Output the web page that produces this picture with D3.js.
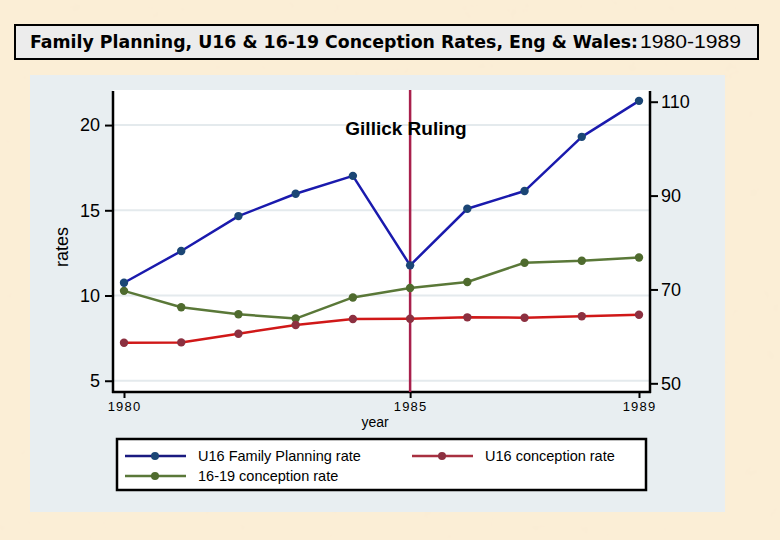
<!DOCTYPE html>
<html>
<head>
<meta charset="utf-8">
<script src="https://cdn.jsdelivr.net/npm/d3@7"></script>
<style>
  html, body { margin: 0; padding: 0; background: #faecd2; }
  svg { display: block; }
</style>
</head>
<body>
<svg id="chart" width="780" height="540"></svg>
<script>
// ---- data ----
const years = [1980, 1981, 1982, 1983, 1984, 1985, 1986, 1987, 1988, 1989];
const u16FamilyPlanning = [10.75, 12.61, 14.66, 15.97, 17.02, 11.77, 15.09, 16.13, 19.31, 21.42]; // left axis
const u16Conception = [7.23, 7.25, 7.76, 8.27, 8.62, 8.64, 8.72, 8.70, 8.78, 8.87];              // left axis
const conception1619 = [69.7, 66.2, 64.7, 63.8, 68.3, 70.3, 71.6, 75.7, 76.1, 76.8];             // right axis
const leftTicks = [5, 10, 15, 20];
const rightTicks = [50, 70, 90, 110];
const xTicks = [1980, 1985, 1989];
const eventYear = 1985;
const eventLabel = "Gillick Ruling";
const titleMain = "Family Planning, U16 & 16-19 Conception Rates, Eng & Wales:";
const titleYears = "1980-1989";
const legendLabels = ["U16 Family Planning rate", "U16 conception rate", "16-19 conception rate"];

const svg = d3.select("#chart");

// parchment texture
const defs = svg.append("defs");
const f = defs.append("filter").attr("id", "paper").attr("x", 0).attr("y", 0).attr("width", "100%").attr("height", "100%");
f.append("feTurbulence").attr("type", "fractalNoise").attr("baseFrequency", 0.05).attr("numOctaves", 4).attr("seed", 7).attr("result", "n");
f.append("feColorMatrix").attr("type", "matrix")
  .attr("values", "0 0 0 0 0.95  0 0 0 0 0.84  0 0 0 0 0.66  0 0 0 -0.8 0.45");
svg.append("rect").attr("width", 780).attr("height", 540).attr("fill", "#fbeed6");
svg.append("rect").attr("width", 780).attr("height", 540).attr("filter", "url(#paper)");

// title box
svg.append("rect").attr("x", 15).attr("y", 25).attr("width", 743).attr("height", 34)
  .attr("fill", "#ececec").attr("stroke", "#000").attr("stroke-width", 2);
svg.append("text").attr("x", 30).attr("y", 48)
  .attr("font-family", "'DejaVu Sans', sans-serif").attr("font-weight", "bold").attr("font-size", 17)
  .attr("textLength", 608).attr("lengthAdjust", "spacingAndGlyphs").attr("fill", "#000")
  .text(titleMain);
svg.append("text").attr("x", 640).attr("y", 48)
  .attr("font-family", "'Liberation Sans Narrow', 'Liberation Sans', sans-serif").attr("font-size", 18)
  .attr("textLength", 101).attr("lengthAdjust", "spacingAndGlyphs").attr("fill", "#000")
  .text(titleYears);

// outer graph region
svg.append("rect").attr("x", 30).attr("y", 75).attr("width", 695).attr("height", 437).attr("fill", "#e8eef1");

// plot region
const L = 113, R = 650, T = 90, B = 392;
svg.append("rect").attr("x", L).attr("y", T).attr("width", R - L).attr("height", B - T).attr("fill", "#fff");

const x = d3.scaleLinear().domain([1980, 1989]).range([124, 639]);
const yL = d3.scaleLinear().domain([4.34, 21.94]).range([392, 92]);
const yR = d3.scaleLinear().domain([48.15, 112.07]).range([392, 92]);

// gridlines
svg.append("g").selectAll("line").data(leftTicks).join("line")
  .attr("x1", L).attr("x2", R).attr("y1", d => yL(d)).attr("y2", d => yL(d))
  .attr("stroke", "#e4eaed").attr("stroke-width", 2);

// axes
const axFont = "'Liberation Sans', Arial, sans-serif";
const gL = svg.append("g").attr("transform", `translate(${L},0)`)
  .call(d3.axisLeft(yL).tickValues(leftTicks).tickSize(8).tickPadding(5).tickSizeOuter(0));
const gR = svg.append("g").attr("transform", `translate(${R},0)`)
  .call(d3.axisRight(yR).tickValues(rightTicks).tickSize(8).tickPadding(3).tickSizeOuter(0));
const gB = svg.append("g").attr("transform", `translate(0,${B})`)
  .call(d3.axisBottom(x).tickValues(xTicks).tickFormat(d3.format("d")).tickSize(6).tickPadding(4).tickSizeOuter(0));
[gL, gR, gB].forEach(g => {
  g.select(".domain").remove();
  g.selectAll(".tick line").attr("stroke", "#000").attr("stroke-width", 2);
});
[gL, gR].forEach(g => g.selectAll(".tick text").attr("font-family", axFont).attr("font-size", 18).attr("fill", "#000"));
gB.selectAll(".tick text").attr("font-family", axFont).attr("font-size", 13).attr("letter-spacing", 1.2).attr("fill", "#000");

// axis lines
svg.append("line").attr("x1", L).attr("x2", L).attr("y1", 91).attr("y2", B + 1).attr("stroke", "#000").attr("stroke-width", 2.5);
svg.append("line").attr("x1", R).attr("x2", R).attr("y1", 91).attr("y2", B + 1).attr("stroke", "#000").attr("stroke-width", 2.5);
svg.append("line").attr("x1", L - 1).attr("x2", R + 1).attr("y1", B).attr("y2", B).attr("stroke", "#000").attr("stroke-width", 2.5);

// axis titles
svg.append("text").attr("transform", "translate(68,247) rotate(-90)").attr("text-anchor", "middle")
  .attr("font-family", axFont).attr("font-size", 18).attr("fill", "#000").text("rates");
svg.append("text").attr("x", 375).attr("y", 427).attr("text-anchor", "middle")
  .attr("font-family", axFont).attr("font-size", 14).attr("fill", "#000").text("year");

// event line
svg.append("line").attr("x1", x(eventYear)).attr("x2", x(eventYear)).attr("y1", T).attr("y2", B)
  .attr("stroke", "#a8204c").attr("stroke-width", 2.5);
svg.append("text").attr("x", 406).attr("y", 135).attr("text-anchor", "middle")
  .attr("font-family", axFont).attr("font-weight", "bold").attr("font-size", 19).attr("fill", "#000")
  .text(eventLabel);

// series
const series = [
  { vals: u16FamilyPlanning, y: yL, line: "#1a1aad", legendLine: "#1a1a80", mark: "#1b4675" },
  { vals: u16Conception, y: yL, line: "#d01818", legendLine: "#a83040", mark: "#8c3040" },
  { vals: conception1619, y: yR, line: "#5a7838", legendLine: "#5a7838", mark: "#4f6b2e" }
];
const drawOrder = [2, 1, 0];
drawOrder.forEach(i => {
  const s = series[i];
  const pts = years.map((yr, j) => [x(yr), s.y(s.vals[j])]);
  svg.append("path").attr("d", d3.line()(pts)).attr("fill", "none")
    .attr("stroke", s.line).attr("stroke-width", 2.5).attr("stroke-linejoin", "round");
  svg.append("g").selectAll("circle").data(pts).join("circle")
    .attr("cx", d => d[0]).attr("cy", d => d[1]).attr("r", 4.2).attr("fill", s.mark);
});

// legend
svg.append("rect").attr("x", 117).attr("y", 439).attr("width", 529).attr("height", 51)
  .attr("fill", "#fff").attr("stroke", "#000").attr("stroke-width", 2.5);
const legendPos = [[125, 456], [412, 456], [125, 476]];
legendPos.forEach((p, i) => {
  const s = series[i];
  svg.append("line").attr("x1", p[0]).attr("x2", p[0] + 61).attr("y1", p[1]).attr("y2", p[1])
    .attr("stroke", s.legendLine).attr("stroke-width", 2.5);
  svg.append("circle").attr("cx", p[0] + 30).attr("cy", p[1]).attr("r", 4).attr("fill", s.mark);
  svg.append("text").attr("x", p[0] + 73).attr("y", p[1] + 5)
    .attr("font-family", axFont).attr("font-size", 14.5).attr("fill", "#000").text(legendLabels[i]);
});
</script>
</body>
</html>
